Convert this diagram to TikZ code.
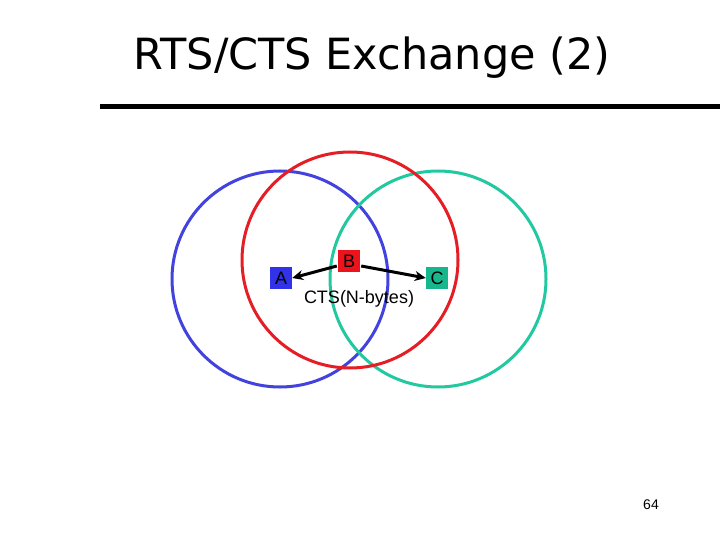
\documentclass[tikz,border=0pt]{standalone}
\usepackage{fontspec}
\setmainfont{Liberation Sans}
\newfontfamily\titlefont{DejaVu Sans}
\usetikzlibrary{arrows.meta,positioning}
\definecolor{rangeBlue}{RGB}{66,66,222}
\definecolor{rangeRed}{RGB}{228,30,36}
\definecolor{rangeGreen}{RGB}{34,200,160}
\definecolor{stationBlue}{RGB}{50,50,232}
\definecolor{stationRed}{RGB}{236,20,28}
\definecolor{stationGreen}{RGB}{24,182,140}
\tikzset{
	txrange/.style={line width=3pt},
	station/.style={
		minimum size=22pt,
		inner sep=0pt,
		font=\fontsize{18}{18}\selectfont,
	},
	msg/.style={
		-{Stealth[length=11pt,width=10pt]},
		line width=3pt,
	}
}
\begin{document}
\begin{tikzpicture}[x=1pt,y=-1pt]
	\useasboundingbox (0,0) rectangle (720,540);
	% --- Title ---
	\node[font=\titlefont\fontsize{43}{43}\selectfont] (title) at (372,58) {RTS/CTS Exchange (2)};
	\draw[line width=5pt] (100,106.5) -- (720,106.5);
	
	% --- Transmission ranges ---
	\draw[txrange, rangeBlue] (280,279) circle (108);
	\draw[txrange, rangeGreen] (438,279) circle (108);
	\draw[txrange, rangeRed] (350,260) circle (108);
	
	% --- Stations ---
	\node[station, fill=stationBlue] (A) at (281,278) {A};
	\node[station, fill=stationRed] (B) at (349,261) {B};
	\node[station, fill=stationGreen] (C) at (437,278) {C};
	
	% --- CTS broadcast ---
	\draw[msg] ([xshift=-1pt,yshift=-5pt]B.west) -- (A.east);
	\draw[msg] ([xshift=1pt,yshift=-5pt]B.east) -- (C.west);
	\node[font=\fontsize{18}{18}\selectfont] (cts) at (359,299) {CTS(N-bytes)};
	
	\node[font=\fontsize{14}{14}\selectfont] (page) at (651,505) {64};
\end{tikzpicture}
\end{document}
